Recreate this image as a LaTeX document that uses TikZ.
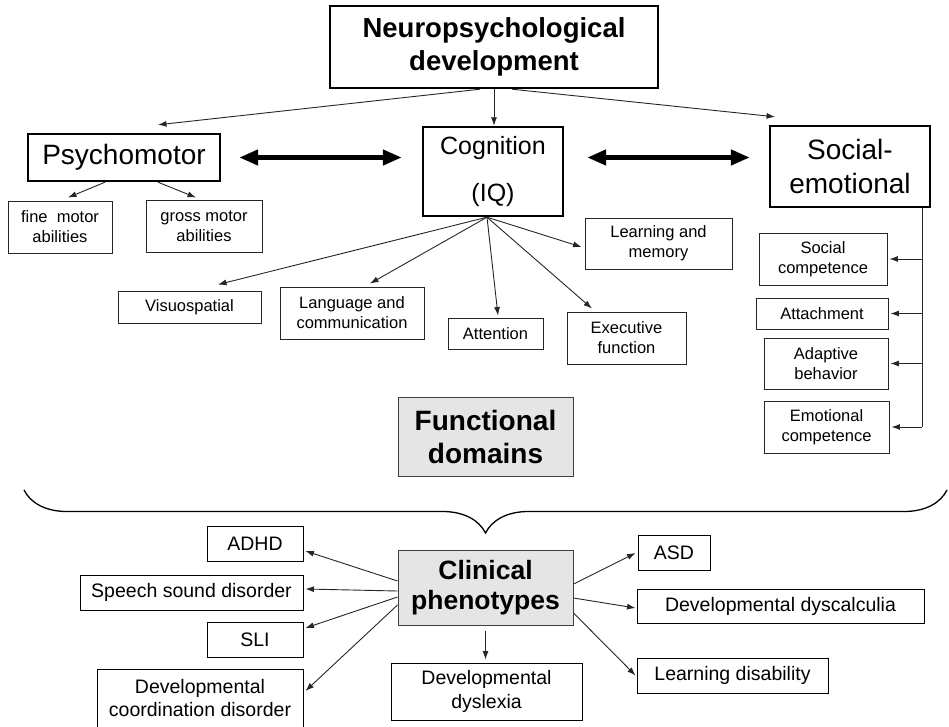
\documentclass[tikz,border=0pt]{standalone}
\usepackage{fontspec}
\setmainfont{Liberation Sans}
\usetikzlibrary{positioning}
\usetikzlibrary{calc,arrows.meta,decorations.pathreplacing}

\begin{document}
\begin{tikzpicture}[x=1pt,y=-1pt,
bigbox/.style={rectangle, draw=black, line width=2.4pt, align=center, inner sep=0pt},
smallbox/.style={rectangle, draw=black!85, line width=0.9pt, align=center, inner sep=0pt, font=\fontsize{16.5}{20}\selectfont},
midbox/.style={rectangle, draw=black, line width=0.9pt, align=center, inner sep=0pt, font=\fontsize{19.5}{23.5}\selectfont},
greybox/.style={rectangle, draw=black!75, fill=black!10, line width=1pt, align=center, inner sep=0pt},
arr/.style={-{Latex[length=8.5pt,width=6pt]}, line width=0.9pt, black!85},
dblarr/.style={{Triangle[length=19pt,width=15pt]}-{Triangle[length=19pt,width=15pt]}, line width=4.5pt},
bracket/.style={decorate, decoration={brace, mirror, amplitude=43pt}, line width=1.3pt},
]
\useasboundingbox (0,0) rectangle (949,727);
%Nodes
\node[bigbox, minimum width=328pt, minimum height=82pt, font=\bfseries\fontsize{27.5}{33}\selectfont] (neuro) at (494,47) {Neuropsychological\\development};
\node[bigbox, minimum width=192pt, minimum height=47pt, font=\fontsize{28}{34}\selectfont] (psycho) at (124,157.5) {Psychomotor};
\node[bigbox, minimum width=140pt, minimum height=89pt, font=\fontsize{25}{47}\selectfont] (cog) at (493,171.5) {Cognition\\(IQ)};
\node[bigbox, minimum width=160pt, minimum height=81pt, font=\fontsize{28}{34}\selectfont] (social) at (850,166.5) {Social-\\emotional};

\node[smallbox, minimum width=104pt, minimum height=52pt] (fine)   at (60,227)    {fine\ \ motor\\abilities};
\node[smallbox, minimum width=116pt, minimum height=52pt] (gross)  at (204,226)   {gross motor\\abilities};
\node[smallbox, minimum width=143pt, minimum height=32pt] (visuo)  at (189.5,307) {Visuospatial};
\node[smallbox, minimum width=144pt, minimum height=52pt] (lang)   at (352,313)   {Language and\\communication};
\node[smallbox, minimum width=95pt,  minimum height=31pt] (attn)   at (495.5,333.5) {Attention};
\node[smallbox, minimum width=119pt, minimum height=52pt] (exec)   at (626.5,338) {Executive\\function};
\node[smallbox, minimum width=147pt, minimum height=51pt] (learn)  at (658.5,243.5) {Learning and\\memory};
\node[smallbox, minimum width=128pt, minimum height=52pt] (soccomp) at (823,259)  {Social\\competence};
\node[smallbox, minimum width=132pt, minimum height=31pt] (attach) at (822,313.5) {Attachment};
\node[smallbox, minimum width=124pt, minimum height=51pt] (adapt)  at (826,363.5) {Adaptive\\behavior};
\node[smallbox, minimum width=125pt, minimum height=52pt] (emot)   at (826.5,427) {Emotional\\competence};

\node[greybox, minimum width=175pt, minimum height=79pt, font=\bfseries\fontsize{28}{33}\selectfont] (func) at (485.5,436.5) {Functional\\domains};
\node[greybox, minimum width=175pt, minimum height=75pt, font=\bfseries\fontsize{26.5}{30}\selectfont] (clin) at (485.5,588) {Clinical\\phenotypes};

\node[midbox, minimum width=96pt,  minimum height=35pt] (adhd)    at (255,544)     {ADHD};
\node[midbox, minimum width=223pt, minimum height=35pt] (speech)  at (191.5,592.5) {Speech sound disorder};
\node[midbox, minimum width=96pt,  minimum height=35pt] (sli)     at (255,639.5)   {SLI};
\node[midbox, minimum width=206pt, minimum height=58pt] (dcd)     at (200,698)     {Developmental\\coordination disorder};
\node[midbox, minimum width=191pt, minimum height=57pt] (dyslex)  at (486.5,691.5) {Developmental\\dyslexia};
\node[midbox, minimum width=72pt,  minimum height=35pt] (asd)     at (674,552.5)   {ASD};
\node[midbox, minimum width=287pt, minimum height=34pt] (dyscalc) at (780.5,606)   {Developmental dyscalculia};
\node[midbox, minimum width=191pt, minimum height=35pt] (ldis)    at (732.5,675.5) {Learning disability};

\coordinate (cogfoot) at ($(cog.south)+(-6,0)$);
\coordinate (sbus) at ($(social.south east)+(-9,0)$);
%Lines
\draw[arr] ($(neuro.south)+(-14,0)$) -- ($(psycho.north)+(34,-8)$);
\draw[arr] (neuro.south) -- (neuro.south |- cog.north);
\draw[arr] ($(neuro.south)+(18,0)$) -- ($(social.north)+(-75,-8)$);
\draw[dblarr, shorten <=18pt, shorten >=20pt] (psycho.east) -- (psycho.east -| cog.west);
\draw[dblarr, shorten <=23pt, shorten >=19pt] (psycho.east -| cog.east) -- (psycho.east -| social.west);
\draw[arr] ($(psycho.south)+(-19,0)$) -- ($(fine.north)+(8,-3)$);
\draw[arr] ($(psycho.south)+(34,0)$) -- ($(gross.north)+(-8,-2)$);
\draw[arr] (cogfoot) -- ($(visuo.north)+(28.5,-6)$);
\draw[arr] (cogfoot) -- ($(lang.north)+(18,-3)$);
\draw[arr] (cogfoot) -- ($(attn.north)+(2.5,-2)$);
\draw[arr] (cogfoot) -- ($(exec.north)+(-34.5,-3)$);
\draw[arr] (cogfoot) -- ($(learn.west)+(-3,3.5)$);
\draw[line width=0.9pt, black!85] (sbus) -- (sbus |- emot.east);
\draw[arr] (sbus |- soccomp.east) -- ($(soccomp.east)+(2,0)$);
\draw[arr] (sbus |- attach.east) -- ($(attach.east)+(2,0)$);
\draw[arr] (sbus |- adapt.east) -- ($(adapt.east)+(2,0)$);
\draw[arr] (sbus |- emot.east) -- ($(emot.east)+(2,0)$);
\draw[bracket] (24,490) -- (947,490);
\draw[arr] ($(clin.west)+(0,-7)$) -- ($(adhd.east)+(2,7)$);
\draw[arr] ($(clin.west)+(0,3)$) -- ($(speech.east)+(2,-3.5)$);
\draw[arr] ($(clin.west)+(0,9)$) -- ($(sli.east)+(2,-11.5)$);
\draw[arr] ($(clin.west)+(0,17)$) -- ($(dcd.east)+(2,-7)$);
\draw[arr, shorten <=5pt, shorten >=3pt] (clin.south) -- (clin.south |- dyslex.north);
\draw[arr] ($(clin.east)+(0,-4)$) -- ($(asd.west)+(-2,0.5)$);
\draw[arr] ($(clin.east)+(0,10)$) -- ($(dyscalc.west)+(-1,2)$);
\draw[arr] ($(clin.east)+(0,25)$) -- ($(ldis.west)+(-1,0)$);
\end{tikzpicture}
\end{document}
